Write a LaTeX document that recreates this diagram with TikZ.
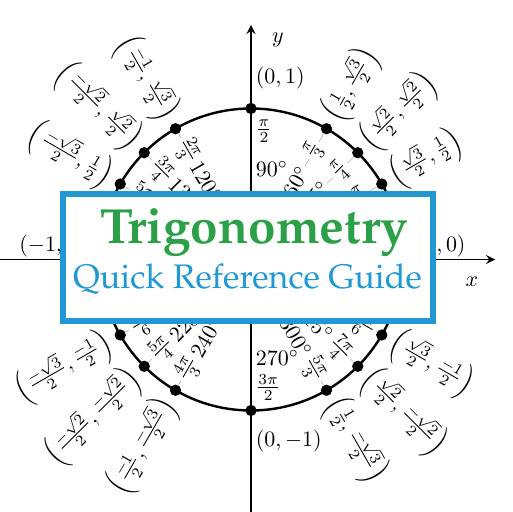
\documentclass[tikz,border=0pt]{standalone}
\usepackage{amsmath}
\usepackage[T1,TU]{fontenc}
\usetikzlibrary{arrows}
\definecolor{boxblue}{RGB}{33,152,210}
\definecolor{titlegreen}{RGB}{44,160,72}
\newcommand{\palfont}{\fontencoding{T1}\fontfamily{ppl}\selectfont}

\begin{document}
\begin{tikzpicture}[>=stealth,
world/.style={inner sep=.64mm, fill=black, circle},
radial/.style={gray!60, line width=.3pt},
unit/.style={line width=1.1pt},
axis/.style={->, line width=.8pt},
coordlab/.style={inner sep=1pt},
anglab/.style={fill=white, text=black, inner sep=.8pt, sloped},
titlebox/.style={draw=boxblue, line width=2.5pt, fill=white, minimum width=5.92cm, minimum height=2.032cm}]

\useasboundingbox (-4.016,-4.04) rectangle (4.176,4.152);

%%%%%%%% SETTINGS %%%%%%%%%%%%%
\pgfmathsetmacro{\R}{2.416}
\pgfmathsetmacro{\Rout}{1.06*\R}
%%%%%%%%%%%%%%%%%%%%%%%%%%%

\coordinate (o) at (0,0);

% right half
\foreach \a/\rad/\pt in {30/{\frac{\pi}{6}}/{\left(\frac{\sqrt{3}}{2},\frac{1}{2}\right)},
  45/{\frac{\pi}{4}}/{\left(\frac{\sqrt{2}}{2},\frac{\sqrt{2}}{2}\right)},
  60/{\frac{\pi}{3}}/{\left(\frac{1}{2},\frac{\sqrt{3}}{2}\right)},
  300/{\frac{5\pi}{3}}/{\left(\frac{1}{2},\frac{-\sqrt{3}}{2}\right)},
  315/{\frac{7\pi}{4}}/{\left(\frac{\sqrt{2}}{2},\frac{-\sqrt{2}}{2}\right)},
  330/{\frac{11\pi}{6}}/{\left(\frac{\sqrt{3}}{2},\frac{-1}{2}\right)}}{
  \node[world] (p\a) at (\a:\R) {};
  \draw[radial] (o) -- node[anglab, pos=.62] (d\a) {$\a^\circ$} node[anglab, pos=.87] (r\a) {$\rad$} (p\a);
  \node[coordlab, anchor=west, rotate=\a] (c\a) at (\a:\Rout) {$\pt$};
}

% left half
\foreach \a/\rad/\pt in {120/{\frac{2\pi}{3}}/{\left(\frac{-1}{2},\frac{\sqrt{3}}{2}\right)},
  135/{\frac{3\pi}{4}}/{\left(\frac{-\sqrt{2}}{2},\frac{\sqrt{2}}{2}\right)},
  150/{\frac{5\pi}{6}}/{\left(\frac{-\sqrt{3}}{2},\frac{1}{2}\right)},
  210/{\frac{7\pi}{6}}/{\left(\frac{-\sqrt{3}}{2},\frac{-1}{2}\right)},
  225/{\frac{5\pi}{4}}/{\left(\frac{-\sqrt{2}}{2},\frac{-\sqrt{2}}{2}\right)},
  240/{\frac{4\pi}{3}}/{\left(\frac{-1}{2},\frac{-\sqrt{3}}{2}\right)}}{
  \node[world] (p\a) at (\a:\R) {};
  \draw[radial] (o) -- node[anglab, pos=.62] (d\a) {$\a^\circ$} node[anglab, pos=.87] (r\a) {$\rad$} (p\a);
  \node[coordlab, anchor=east, rotate=\a-180] (c\a) at (\a:\Rout) {$\pt$};
}

\draw[unit] (o) circle (\R);

\coordinate (xs) at (-4.016,0);
\coordinate (xe) at (3.904,0);
\coordinate (ys) at (0,-4.04);
\coordinate (ye) at (0,3.752);
\draw[axis] (xs) -- (xe);
\draw[axis] (ys) -- (ye);
\node (xlab) at (3.536,-.36) {$x$};
\node (ylab) at (.432,3.512) {$y$};

\foreach \a in {0,90,180,270}{\node[world] (p\a) at (\a:\R) {};}

\node[anchor=west, inner sep=2pt] (r90) at (0,.85*\R) {$\frac{\pi}{2}$};
\node[anchor=west, inner sep=2pt] (d90) at (0,.6*\R) {$90^\circ$};
\node[anchor=west, inner sep=2pt] (d270) at (0,-.65*\R) {$270^\circ$};
\node[anchor=west, inner sep=2pt] (r270) at (0,-.85*\R) {$\frac{3\pi}{2}$};

\node[anchor=south west, inner sep=2pt] (c90) at (0,1.1*\R) {$(0,1)$};
\node[anchor=north west, inner sep=2pt] (c270) at (0,-1.1*\R) {$(0,-1)$};
\node[anchor=south west, inner sep=1pt] (c0) at (1.08*\R,0) {$(1,0)$};
\node[anchor=south east, inner sep=1pt] (c180) at (-1.08*\R,0) {$(-1,0)$};

\node[titlebox] (guide) at (-.048,.032) {};
\node[anchor=base, text=titlegreen, font=\palfont\bfseries\fontsize{22.5}{26}\selectfont] (trig) at (.048,.256) {Trigonometry};
\node[anchor=base, text=boxblue, font=\palfont\fontsize{15.5}{18}\selectfont] (qrg) at (-.056,-.461) {Quick Reference Guide};
\end{tikzpicture}
\end{document}
